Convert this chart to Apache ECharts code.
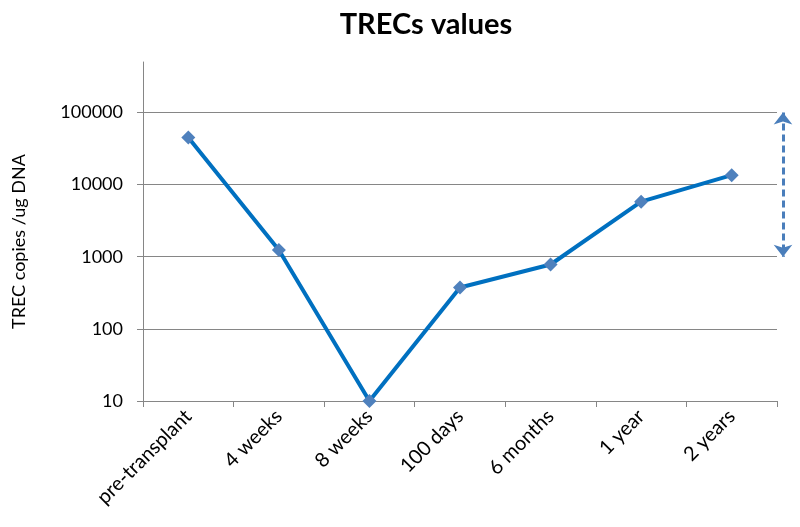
<!DOCTYPE html>
<html>
<head>
<meta charset="utf-8">
<script src="https://cdn.jsdelivr.net/npm/echarts@6/dist/echarts.min.js"></script>
<style>
html,body{margin:0;padding:0;background:#fff;}
#chart{width:800px;height:527px;}
</style>
</head>
<body>
<div id="chart"></div>
<script>
const categories = ['pre-transplant', '4 weeks', '8 weeks', '100 days', '6 months', '1 year', '2 years'];
const trecValues = [45000, 1240, 10, 375, 780, 5800, 13500];
const rangeArrow = [100000, 1000];
const yTickLabels = ['10', '100', '1000', '10000', '100000'];

const FONT = 'Lato, "Open Sans", sans-serif';
const chart = echarts.init(document.getElementById('chart'), null, {renderer: 'canvas'});
chart.setOption({
  animation: false,
  backgroundColor: '#ffffff',
  title: {
    text: 'TRECs values',
    left: 421,
    textAlign: 'center',
    top: 5,
    textStyle: {fontFamily: FONT, fontSize: 29, fontWeight: 'bold', color: '#000'}
  },
  grid: {left: 143, right: 23, top: 62, bottom: 126, containLabel: false},
  xAxis: {
    type: 'category',
    data: categories,
    boundaryGap: true,
    axisLine: {lineStyle: {color: '#868686', width: 1}},
    axisTick: {show: true, length: 6, lineStyle: {color: '#868686'}},
    axisLabel: {rotate: 45, fontFamily: FONT, fontSize: 20, color: '#000', margin: 12, interval: 0}
  },
  yAxis: {
    type: 'log',
    logBase: 10,
    min: 10,
    max: 500000,
    splitNumber: 5,
    name: 'TREC copies /ug DNA',
    nameLocation: 'middle',
    nameGap: 115,
    nameTextStyle: {fontFamily: FONT, fontSize: 18, color: '#000', padding: [0, 20, 0, 0]},
    axisLine: {show: true, lineStyle: {color: '#868686', width: 1}},
    axisTick: {show: true, length: 6, lineStyle: {color: '#868686'}},
    axisLabel: {
      fontFamily: FONT, fontSize: 18, color: '#000', margin: 20,
      showMaxLabel: false,
      formatter: function (v) {
        const s = String(Math.round(v));
        return yTickLabels.indexOf(s) >= 0 ? s : '';
      }
    },
    splitLine: {show: true, showMaxLine: false, lineStyle: {color: '#868686', width: 1}}
  },
  series: [{
    type: 'line',
    data: trecValues,
    clip: false,
    symbol: 'diamond',
    symbolSize: 14,
    lineStyle: {color: '#0070C0', width: 4},
    itemStyle: {color: '#4F81BD'},
    markLine: {
      silent: true,
      symbol: ['arrow', 'arrow'],
      symbolSize: [14, 12],
      label: {show: false},
      lineStyle: {color: '#4A7EBB', width: 3, type: [7, 4]},
      data: [[
        {coord: [categories[categories.length - 1], rangeArrow[0]], x: 783},
        {coord: [categories[categories.length - 1], rangeArrow[1]], x: 783}
      ]]
    }
  }]
});
</script>
</body>
</html>
